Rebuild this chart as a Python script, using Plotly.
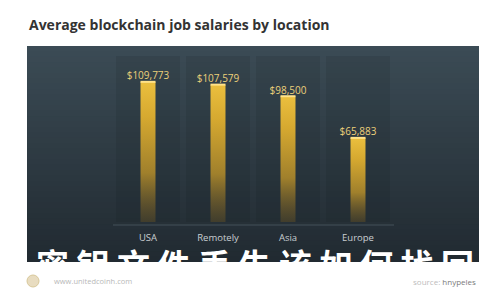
import plotly.graph_objects as go

# ---- data ----
locations = ["USA", "Remotely", "Asia", "Europe"]
salaries = [109773, 107579, 98500, 65883]
salary_labels = ["$109,773", "$107,579", "$98,500", "$65,883"]
title_text = "Average blockchain job salaries by location"
overlay_chars = list("密钥文件丢失该如何找回")
footer_left = "www.unitedcoinh.com"
footer_right_a = "source:"
footer_right_b = "hnypeles"

W, H = 500, 300
ML, MR, MT, MB = 113, 107, 56, 78
PW, PH = W - ML - MR, H - MT - MB


def px(x):
    return (x - ML) / PW


def py(y):
    return (H - MB - y) / PH


fig = go.Figure()

# background columns behind each bar
fig.add_trace(go.Bar(
    x=list(range(len(locations))), y=[130000] * len(locations),
    width=0.92, marker=dict(color="rgba(10,15,20,0.10)", line=dict(width=0)),
    hoverinfo="skip", showlegend=False,
))

# bars with vertical gradient (polygons built from data through the axes)
half = 0.107
for i, v in enumerate(salaries):
    fig.add_trace(go.Scatter(
        x=[i - half, i + half, i + half, i - half, i - half],
        y=[0, 0, v, v, 0],
        mode="lines", line=dict(width=0),
        fill="toself",
        fillgradient=dict(
            type="vertical",
            colorscale=[[0, "rgba(95,78,38,0.5)"], [0.35, "#a0802c"], [0.75, "#d6a930"], [1, "#ebbf3e"]],
        ),
        hoverinfo="skip", showlegend=False,
    ))
    fig.add_trace(go.Scatter(
        x=[i - half, i + half], y=[v, v], mode="lines",
        line=dict(color="#ffe28a", width=2),
        hoverinfo="skip", showlegend=False,
    ))

# value labels
fig.add_trace(go.Scatter(
    x=list(range(len(locations))), y=salaries, mode="text",
    text=salary_labels, textposition="top center",
    textfont=dict(family="Open Sans", size=10, color="#ecd07a"),
    hoverinfo="skip", showlegend=False,
))

# panel gradient strips (each runs to the panel bottom so no seams show)
x0, x1, y0, y1 = 27, 479, 46, 262
top = (59, 75, 85)
bot = (33, 42, 49)
n = 40
shapes = []
for k in range(n):
    t = k / (n - 1)
    c = tuple(round(top[j] + (bot[j] - top[j]) * t) for j in range(3))
    ya = y0 + (y1 - y0) * k / n
    shapes.append(dict(
        type="rect", xref="paper", yref="paper", layer="below",
        x0=px(x0), x1=px(x1), y0=py(y1), y1=py(ya),
        fillcolor="rgb(%d,%d,%d)" % c, line=dict(width=0),
    ))
shapes.append(dict(type="line", xref="paper", yref="paper", layer="below",
                   x0=px(113), x1=px(394), y0=py(225), y1=py(225),
                   line=dict(color="rgba(90,105,115,0.6)", width=1)))
shapes.append(dict(type="circle", xref="paper", yref="paper",
                   x0=px(27), x1=px(39), y0=py(287), y1=py(275),
                   fillcolor="#e8dcc0", line=dict(color="#d8c89a", width=1)))

annotations = [
    dict(text="<b>" + title_text + "</b>", xref="paper", yref="paper",
         x=px(27), y=py(24), xanchor="left", yanchor="middle", showarrow=False,
         font=dict(family="Open Sans", size=14, color="#333333")),
    dict(text="<b>" + " ".join(overlay_chars) + "</b>", xref="paper", yref="paper",
         x=px(255), y=py(264), xanchor="center", yanchor="middle", showarrow=False,
         font=dict(family="Noto Sans CJK SC", size=33, color="#ffffff")),
    dict(text=footer_left, xref="paper", yref="paper",
         x=px(52), y=py(281), xanchor="left", yanchor="middle", showarrow=False,
         font=dict(family="Open Sans", size=7.5, color="#b8b8b8")),
    dict(text="<span style='color:#bdbdbd'>" + footer_right_a + "</span> " + footer_right_b,
         xref="paper", yref="paper",
         x=px(478), y=py(281), xanchor="right", yanchor="middle", showarrow=False,
         font=dict(family="Open Sans", size=8, color="#7a7a7a")),
]

fig.update_layout(
    width=W, height=H,
    margin=dict(l=ML, r=MR, t=MT, b=MB),
    paper_bgcolor="#ffffff", plot_bgcolor="rgba(0,0,0,0)",
    barmode="overlay", bargap=0,
    shapes=shapes, annotations=annotations,
    showlegend=False,
    xaxis=dict(range=[-0.5, 3.5], tickmode="array", tickvals=list(range(len(locations))),
               ticktext=locations, showgrid=False, zeroline=False, showline=False,
               ticks="", ticklabelstandoff=8,
               tickfont=dict(family="Open Sans", size=9.5, color="#c9ced2")),
    yaxis=dict(range=[0, 130000], showgrid=False, zeroline=False, showline=False,
               showticklabels=False, ticks=""),
)

fig.write_html("out.html")
